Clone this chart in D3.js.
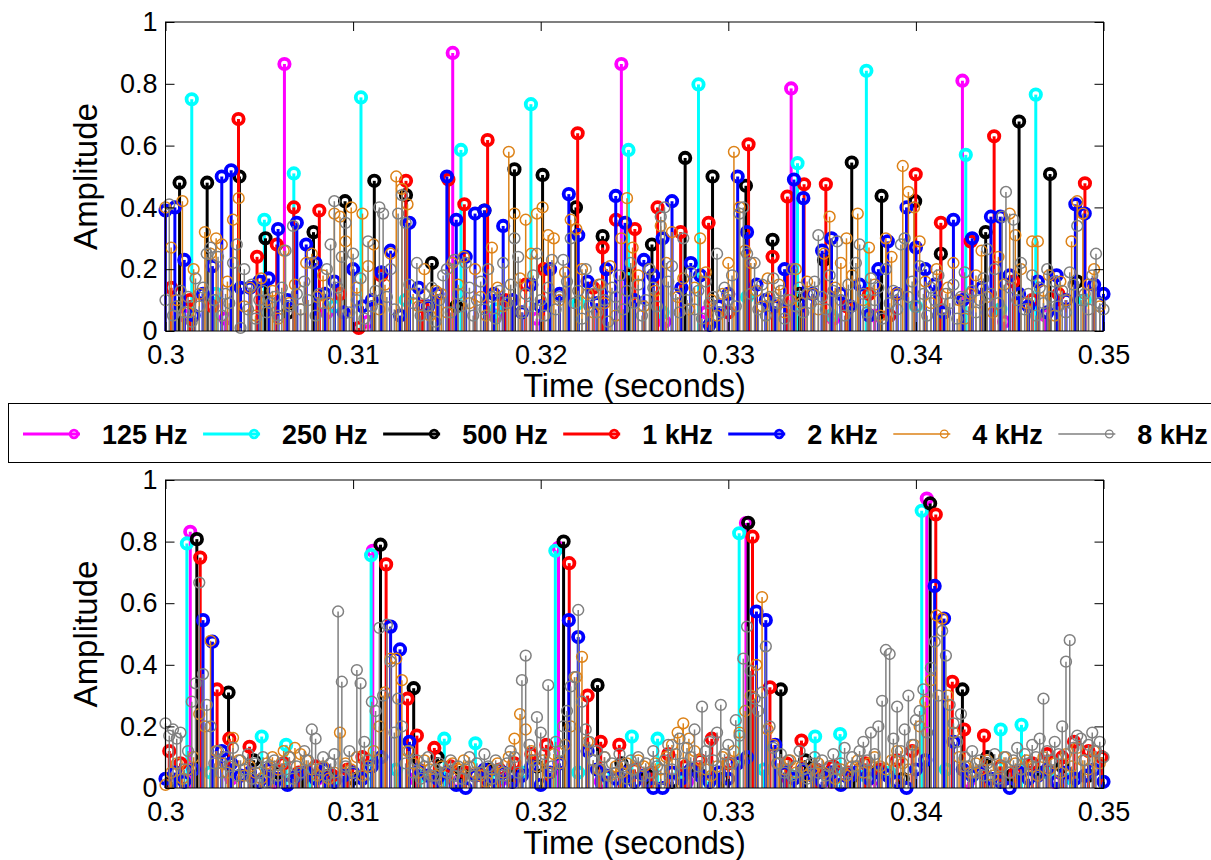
<!DOCTYPE html>
<html>
<head>
<meta charset="utf-8">
<script src="https://cdn.jsdelivr.net/npm/d3@7"></script>
<style>
  body { margin: 0; background: #fff; }
  text { font-family: "Liberation Sans", Arial, Helvetica, sans-serif; }
</style>
</head>
<body>
<svg id="chart" width="1211" height="860"></svg>
<script>
// ---------- labels ----------
const seriesNames = ["125 Hz", "250 Hz", "500 Hz", "1 kHz", "2 kHz", "4 kHz", "8 kHz"];
const xTickValues = [0.3, 0.31, 0.32, 0.33, 0.34, 0.35];
const xTickLabels = ["0.3", "0.31", "0.32", "0.33", "0.34", "0.35"];
const yTickValues = [0, 0.2, 0.4, 0.6, 0.8, 1];
const yTickLabels = ["0", "0.2", "0.4", "0.6", "0.8", "1"];
const xLabel = "Time (seconds)";
const yLabel = "Amplitude";

// ---------- upper panel: [time, amplitude] ----------
const top125 = [[0.3010,0.05],[0.3032,0.04],[0.30634,0.864],[0.3086,0.06],[0.3108,0.03],[0.31531,0.90],[0.3176,0.05],[0.3198,0.04],[0.3243,0.864],[0.3266,0.03],[0.3288,0.06],[0.33335,0.785],[0.3356,0.04],[0.3378,0.05],[0.34248,0.81],[0.3447,0.03],[0.3469,0.05]];
const top250 = [[0.3014,0.75],[0.3027,0.12],[0.30527,0.36],[0.30684,0.51],[0.3090,0.08],[0.31042,0.756],[0.3128,0.10],[0.31575,0.586],[0.3176,0.07],[0.31948,0.734],[0.3220,0.09],[0.32468,0.586],[0.3265,0.06],[0.32841,0.798],[0.3310,0.11],[0.33369,0.543],[0.3355,0.05],[0.33736,0.842],[0.3400,0.08],[0.34266,0.57],[0.3445,0.07],[0.34639,0.765],[0.3490,0.10]];
const top500 = [[0.30075,0.48],[0.30222,0.48],[0.30394,0.50],[0.30533,0.30],[0.30655,0.06],[0.30789,0.32],[0.30957,0.42],[0.31113,0.486],[0.31282,0.44],[0.3142,0.22],[0.3155,0.08],[0.3170,0.39],[0.3186,0.523],[0.3201,0.505],[0.32188,0.40],[0.3233,0.307],[0.32467,0.18],[0.32593,0.28],[0.3277,0.56],[0.32916,0.50],[0.33094,0.47],[0.33236,0.295],[0.3338,0.12],[0.3351,0.23],[0.33658,0.545],[0.33817,0.437],[0.33996,0.42],[0.34133,0.25],[0.34372,0.32],[0.3455,0.678],[0.34715,0.508],[0.3486,0.16]];
const top1k = [[0.3003,0.14],[0.3013,0.10],[0.3025,0.08],[0.30389,0.686],[0.30488,0.24],[0.30593,0.28],[0.30684,0.40],[0.3082,0.39],[0.3093,0.12],[0.3103,0.01],[0.3115,0.18],[0.31282,0.486],[0.3137,0.08],[0.31508,0.49],[0.31593,0.41],[0.31717,0.618],[0.3181,0.10],[0.3192,0.15],[0.32016,0.20],[0.32197,0.64],[0.3228,0.14],[0.3233,0.27],[0.32401,0.36],[0.32502,0.33],[0.32623,0.40],[0.32746,0.32],[0.32895,0.35],[0.3300,0.06],[0.33108,0.604],[0.33236,0.24],[0.33315,0.435],[0.33404,0.475],[0.3352,0.475],[0.3363,0.08],[0.3375,0.12],[0.3386,0.05],[0.33999,0.507],[0.34133,0.35],[0.34292,0.29],[0.34417,0.63],[0.3452,0.16],[0.3462,0.10],[0.3476,0.12],[0.34901,0.478]];
// uniformly sampled bands, first sample at t = 0.3 s
const top2k = [
  .39,.40,.23,.05,.12,.21,.50,.52,.14,.14,
  .16,.17,.33,.10,.35,.28,.22,.12,.16,.06,
  .20,.08,.10,.19,.26,.05,.35,.14,.08,.12,
  .50,.36,.24,.38,.39,.12,.34,.10,.06,.15,
  .08,.20,.12,.443,.31,.16,.09,.20,.437,.35,
  .10,.23,.18,.30,.42,.14,.22,.18,.02,.08,
  .12,.50,.32,.15,.10,.08,.20,.49,.43,.12,
  .26,.30,.12,.08,.15,.05,.20,.29,.12,.40,
  .27,.20,.15,.06,.36,.10,.30,.14,.37,.37,
  .18,.12,.08,.16,.06,.18,.10,.41,.38,.15,
  .12];
const top4k = [
  .40,.27,.10,.42,.06,.20,.12,.32,.25,.30,
  .28,.16,.36,.43,.08,.14,.05,.17,.10,.13,
  .04,.26,.09,.15,.07,.22,.25,.11,.18,.09,
  .38,.37,.29,.40,.14,.38,.21,.28,.07,.15,
  .25,.50,.46,.41,.12,.08,.20,.05,.13,.12,
  .06,.22,.15,.24,.09,.20,.11,.05,.27,.14,
  .08,.58,.38,.17,.36,.25,.38,.40,.31,.30,
  .10,.19,.36,.33,.20,.12,.06,.15,.09,.21,
  .05,.30,.43,.27,.18,.08,.20,.13,.34,.22,
  .32,.11,.17,.07,.14,.30,.19,.10,.05,.12,
  .22,.58,.40,.26,.22,.13,.08,.17,.11,.15,
  .06,.10,.20,.09,.16,.12,.07,.25,.37,.14,
  .22,.30,.18,.38,.10,.27,.15,.05,.30,.24,
  .12,.534,.45,.40,.29,.16,.09,.20,.07,.14,
  .22,.10,.04,.12,.18,.26,.11,.06,.24,.15,
  .38,.31,.20,.09,.29,.29,.13,.18,.05,.16,
  .10,.29,.42,.38,.15,.20,.08];
const top8k = [
  .10,.41,.05,.08,.13,.06,.11,.03,.17,.08,
  .14,.25,.27,.10,.24,.05,.12,.09,.22,.28,
  .01,.20,.07,.15,.04,.10,.13,.06,.09,.11,
  .05,.14,.26,.08,.34,.12,.07,.16,.10,.22,
  .05,.12,.09,.20,.28,.42,.14,.24,.35,.06,
  .25,.10,.17,.04,.29,.08,.13,.40,.38,.11,
  .20,.07,.38,.44,.35,.15,.09,.22,.05,.12,
  .08,.14,.03,.10,.18,.20,.06,.23,.12,.08,
  .22,.14,.05,.10,.16,.07,.20,.11,.04,.13,
  .22,.09,.15,.30,.24,.06,.12,.08,.18,.25,
  .10,.05,.14,.23,.07,.11,.23,.16,.30,.09,
  .13,.04,.20,.08,.12,.06,.15,.10,.03,.14,
  .11,.18,.07,.13,.22,.09,.15,.05,.10,.20,
  .14,.08,.37,.40,.16,.21,.12,.06,.30,.10,
  .19,.07,.13,.04,.16,.09,.11,.25,.06,.14,
  .10,.18,.08,.38,.40,.25,.12,.22,.07,.15,
  .05,.11,.17,.09,.13,.04,.10,.20,.08,.14,
  .06,.12,.09,.16,.31,.11,.07,.18,.13,.29,
  .10,.05,.15,.08,.22,.28,.12,.06,.17,.10,
  .14,.04,.20,.09,.13,.07,.28,.30,.11,.16,
  .08,.21,.12,.05,.14,.10,.18,.07,.12,.09,
  .15,.04,.11,.19,.08,.13,.06,.10,.17,.265,
  .12,.20,.09,.37,.45,.14,.36,.10,.22,.07,
  .12,.18,.05,.14,.09,.20,.11,.16,.08,.13,
  .06,.19,.15,.34,.10,.12,.07,.18,.25,.09,
  .07];

// ---------- lower panel ----------
const bot125 = [[0.30132,0.832],[0.3035,0.03],[0.3058,0.02],[0.3081,0.03],[0.31105,0.77],[0.3133,0.03],[0.3156,0.02],[0.3180,0.03],[0.32095,0.78],[0.3232,0.02],[0.3255,0.03],[0.3278,0.02],[0.33094,0.86],[0.3332,0.03],[0.3355,0.02],[0.3378,0.03],[0.34058,0.94],[0.3428,0.02],[0.3451,0.03],[0.3474,0.02]];
const bot250 = [[0.30114,0.794],[0.3024,0.05],[0.30513,0.167],[0.30643,0.14],[0.3077,0.04],[0.3090,0.03],[0.31096,0.756],[0.3123,0.06],[0.3136,0.04],[0.31486,0.16],[0.31652,0.145],[0.3177,0.03],[0.3190,0.05],[0.32078,0.77],[0.3220,0.05],[0.3234,0.04],[0.32486,0.167],[0.32623,0.16],[0.3275,0.05],[0.3288,0.03],[0.33058,0.827],[0.3319,0.06],[0.3333,0.04],[0.33463,0.167],[0.33596,0.175],[0.3373,0.04],[0.3386,0.05],[0.34031,0.90],[0.3416,0.06],[0.3430,0.04],[0.34452,0.19],[0.34563,0.205],[0.3470,0.05],[0.3483,0.03]];
const bot500 = [[0.3003,0.02],[0.30167,0.808],[0.30336,0.31],[0.3047,0.09],[0.3060,0.05],[0.3073,0.03],[0.3087,0.04],[0.3100,0.03],[0.31146,0.79],[0.31323,0.324],[0.3145,0.10],[0.3158,0.05],[0.3172,0.06],[0.3185,0.04],[0.3198,0.07],[0.32122,0.80],[0.32303,0.334],[0.3243,0.08],[0.3257,0.04],[0.3270,0.02],[0.3284,0.05],[0.3297,0.03],[0.33106,0.861],[0.3328,0.32],[0.3341,0.09],[0.3354,0.05],[0.3367,0.04],[0.3380,0.06],[0.3393,0.03],[0.34076,0.924],[0.34248,0.32],[0.3438,0.10],[0.3451,0.04],[0.3465,0.05],[0.3478,0.07],[0.3492,0.04]];
const bot1k = [[0.3002,0.12],[0.3008,0.08],[0.30185,0.748],[0.30275,0.32],[0.3034,0.16],[0.30448,0.134],[0.3055,0.06],[0.3063,0.08],[0.3071,0.05],[0.3080,0.07],[0.3089,0.04],[0.3097,0.06],[0.3105,0.10],[0.31176,0.726],[0.3129,0.29],[0.3134,0.17],[0.31433,0.13],[0.3152,0.07],[0.3160,0.05],[0.3169,0.04],[0.3178,0.06],[0.3186,0.08],[0.3195,0.11],[0.3203,0.14],[0.32152,0.73],[0.3225,0.30],[0.3232,0.15],[0.32419,0.14],[0.3250,0.06],[0.3259,0.05],[0.3268,0.11],[0.3277,0.07],[0.3285,0.09],[0.32912,0.16],[0.3300,0.08],[0.33129,0.816],[0.33222,0.327],[0.3331,0.08],[0.3339,0.154],[0.3347,0.06],[0.3356,0.07],[0.3364,0.05],[0.3373,0.08],[0.3381,0.06],[0.3390,0.09],[0.3398,0.12],[0.34106,0.888],[0.34194,0.345],[0.34257,0.19],[0.34363,0.17],[0.3445,0.07],[0.3453,0.05],[0.3462,0.08],[0.3470,0.11],[0.3478,0.10],[0.34843,0.15],[0.3492,0.12],[0.3499,0.10]];
const bot2k = [
  .03,.05,.02,.06,.545,.475,.12,.08,.04,.05,
  .02,.06,.03,.01,.04,.05,.03,.06,.02,.04,
  .05,.03,.07,.10,.524,.45,.15,.06,.04,.03,
  .05,.01,.00,.04,.06,.03,.05,.02,.04,.07,
  .01,.05,.08,.545,.49,.12,.06,.04,.03,.05,
  .02,.04,.00,.00,.05,.03,.06,.04,.02,.05,
  .03,.08,.10,.573,.545,.14,.05,.03,.06,.04,
  .02,.05,.01,.04,.06,.03,.05,.04,.02,.00,
  .06,.09,.656,.55,.15,.06,.04,.05,.03,.02,
  .00,.05,.03,.04,.06,.02,.05,.03,.04,.06,
  .02];
const bot4k = [
  .01,.05,.08,.03,.06,.10,.24,.20,.478,.12,
  .08,.05,.163,.09,.04,.07,.05,.03,.08,.10,
  .06,.12,.10,.13,.11,.09,.06,.04,.07,.03,
  .05,.18,.08,.06,.10,.04,.07,.12,.20,.31,
  .42,.42,.35,.12,.08,.05,.09,.06,.04,.07,
  .05,.08,.06,.09,.07,.05,.04,.02,.06,.08,
  .05,.10,.16,.24,.19,.12,.07,.09,.05,.11,
  .08,.14,.20,.36,.426,.15,.09,.06,.10,.04,
  .07,.05,.08,.06,.09,.07,.05,.08,.06,.10,
  .14,.18,.21,.16,.12,.09,.06,.04,.07,.10,
  .08,.12,.18,.25,.30,.40,.62,.19,.14,.08,
  .06,.09,.05,.07,.04,.06,.08,.05,.07,.03,
  .06,.04,.07,.09,.05,.08,.10,.07,.06,.09,
  .12,.08,.06,.14,.20,.28,.35,.56,.55,.30,
  .18,.10,.07,.05,.08,.06,.09,.04,.07,.10,
  .05,.08,.06,.09,.07,.04,.10,.06,.08,.05,
  .11,.07,.13,.09,.06,.12,.08];
const bot8k = [
  .21,.17,.19,.16,.18,.06,.12,.28,.34,.667,
  .37,.27,.20,.08,.12,.05,.10,.07,.13,.04,
  .09,.06,.11,.03,.08,.05,.10,.02,.07,.09,
  .04,.08,.06,.10,.03,.07,.05,.12,.09,.19,
  .16,.06,.10,.04,.08,.11,.573,.345,.07,.12,
  .05,.383,.34,.15,.09,.28,.25,.52,.30,.53,
  .41,.18,.29,.20,.08,.12,.05,.09,.03,.07,
  .10,.04,.06,.08,.02,.05,.09,.04,.07,.03,
  .06,.10,.04,.08,.05,.11,.07,.03,.09,.06,
  .04,.08,.12,.10,.05,.35,.43,.14,.09,.23,
  .18,.11,.334,.07,.15,.12,.20,.25,.33,.36,
  .578,.28,.19,.15,.09,.12,.06,.10,.04,.08,
  .05,.11,.07,.03,.09,.06,.10,.04,.08,.05,
  .12,.07,.03,.09,.14,.06,.11,.16,.08,.13,
  .10,.19,.07,.264,.12,.15,.09,.18,.27,.11,
  .14,.08,.22,.17,.42,.524,.38,.29,.25,.31,
  .46,.20,.13,.08,.11,.05,.09,.04,.07,.12,
  .06,.03,.08,.10,.05,.09,.04,.07,.11,.06,
  .08,.13,.05,.10,.07,.12,.15,.09,.18,.11,
  .20,.283,.448,.435,.16,.264,.12,.19,.30,.14,
  .22,.25,.32,.18,.39,.475,.30,.51,.43,.27,
  .21,.15,.24,.10,.07,.12,.05,.09,.04,.08,
  .06,.11,.03,.07,.10,.05,.09,.13,.06,.11,
  .08,.14,.10,.16,.29,.12,.09,.15,.11,.20,
  .41,.48,.13,.17,.16,.09,.14,.18,.12,.15,
  .10];

// sample spacing (s) of the uniformly sampled bands
const step2k = 0.0005, step4k = 0.0003, step8k = 0.0002, sampleStart = 0.3;

// ---------- styling ----------
const seriesColors = ["#ff00ff", "#00ffff", "#000000", "#ff0000", "#0000ff", "#dd8217", "#808080"];
const seriesHeavy  = [true, true, true, true, true, false, false];

const toPairs = (vals, step) => vals.map((v, i) => [sampleStart + i * step, v]);

const panels = [
  { top: 22,  bottom: 331, series: [top125, top250, top500, top1k, toPairs(top2k, step2k), toPairs(top4k, step4k), toPairs(top8k, step8k)] },
  { top: 480, bottom: 788, series: [bot125, bot250, bot500, bot1k, toPairs(bot2k, step2k), toPairs(bot4k, step4k), toPairs(bot8k, step8k)] }
];

const svg = d3.select("#chart");
const left = 165.5, right = 1103.5;
const x = d3.scaleLinear().domain([0.3, 0.35]).range([left, right]);

panels.forEach(p => {
  const y = d3.scaleLinear().domain([0, 1]).range([p.bottom, p.top]);
  const g = svg.append("g");

  // stems + circle markers, one series after the other
  p.series.forEach((data, si) => {
    const heavy = seriesHeavy[si];
    const col = seriesColors[si];
    const sg = g.append("g");
    sg.selectAll("line").data(data).join("line")
      .attr("x1", d => x(d[0])).attr("x2", d => x(d[0]))
      .attr("y1", y(0)).attr("y2", d => y(d[1]))
      .attr("stroke", col).attr("stroke-width", heavy ? 3 : 1.5);
    sg.selectAll("circle").data(data).join("circle")
      .attr("cx", d => x(d[0])).attr("cy", d => y(d[1]))
      .attr("r", heavy ? 5.2 : 5.4).attr("fill", "none")
      .attr("stroke", col).attr("stroke-width", heavy ? 3.8 : 1.5);
  });

  // axes with inward ticks on all four sides
  const tick = 9;
  const styleAxis = sel => {
    sel.selectAll(".domain").remove();
    sel.selectAll(".tick line").attr("stroke", "#000").attr("stroke-width", 1);
    sel.selectAll("text").attr("font-size", 27).attr("fill", "#000")
      .attr("font-family", "'Liberation Sans', Arial, sans-serif");
  };
  g.append("g").attr("transform", `translate(0,${p.bottom})`)
    .call(d3.axisBottom(x).tickValues(xTickValues).tickFormat((d, i) => xTickLabels[i])
      .tickSizeInner(-tick).tickSizeOuter(0).tickPadding(14))
    .call(styleAxis);
  g.append("g").attr("transform", `translate(0,${p.top})`)
    .call(d3.axisTop(x).tickValues(xTickValues).tickFormat("")
      .tickSizeInner(-tick).tickSizeOuter(0))
    .call(styleAxis);
  g.append("g").attr("transform", `translate(${left},0)`)
    .call(d3.axisLeft(y).tickValues(yTickValues).tickFormat((d, i) => yTickLabels[i])
      .tickSizeInner(-tick).tickSizeOuter(0).tickPadding(8))
    .call(styleAxis);
  g.append("g").attr("transform", `translate(${right},0)`)
    .call(d3.axisRight(y).tickValues(yTickValues).tickFormat("")
      .tickSizeInner(-tick).tickSizeOuter(0))
    .call(styleAxis);

  g.append("rect").attr("x", left).attr("y", p.top)
    .attr("width", right - left).attr("height", p.bottom - p.top)
    .attr("fill", "none").attr("stroke", "#000").attr("stroke-width", 1);

  g.append("text").attr("x", (left + right) / 2).attr("y", p.bottom + 66)
    .attr("text-anchor", "middle").attr("font-size", 32.5).text(xLabel);
  g.append("text")
    .attr("transform", `translate(97,${(p.top + p.bottom) / 2}) rotate(-90)`)
    .attr("text-anchor", "middle").attr("font-size", 33).text(yLabel);
});

// ---------- legend ----------
const lg = svg.append("g");
lg.append("rect").attr("x", 8.5).attr("y", 403.5).attr("width", 1260).attr("height", 59)
  .attr("fill", "#fff").attr("stroke", "#000").attr("stroke-width", 1);
let cx = 23;
const legY = 434;
seriesNames.forEach((name, i) => {
  const heavy = seriesHeavy[i];
  const col = seriesColors[i];
  lg.append("line").attr("x1", cx).attr("x2", cx + 57).attr("y1", legY).attr("y2", legY)
    .attr("stroke", col).attr("stroke-width", heavy ? 3 : 1.5);
  lg.append("circle").attr("cx", cx + 51).attr("cy", legY).attr("r", 3.8)
    .attr("fill", "none").attr("stroke", col).attr("stroke-width", heavy ? 2.8 : 1.3);
  const t = lg.append("text").attr("x", cx + 79).attr("y", legY + 9.5)
    .attr("font-size", 27).attr("font-weight", "bold").attr("fill", "#000").text(name);
  cx += 79 + t.node().getComputedTextLength() + 15.5;
});
</script>
</body>
</html>
